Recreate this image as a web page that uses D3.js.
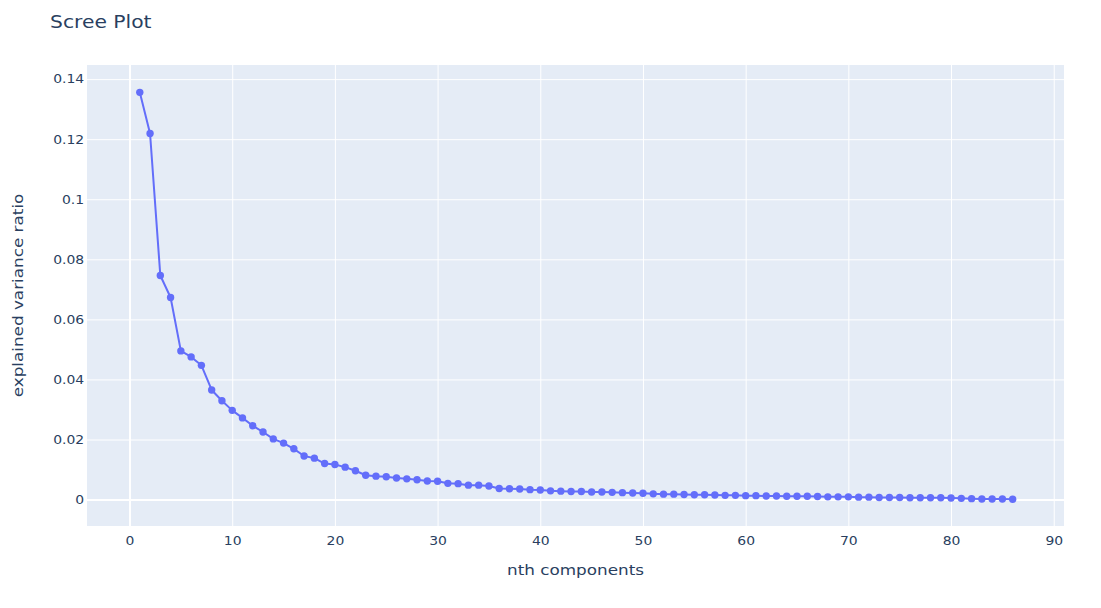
<!DOCTYPE html>
<html>
<head>
<meta charset="utf-8">
<script src="https://cdn.jsdelivr.net/npm/d3@7"></script>
<style>
  html, body { margin: 0; padding: 0; background: #fff; }
  svg { display: block; font-family: "DejaVu Sans", Verdana, sans-serif; }
</style>
</head>
<body>
<svg id="chart" width="1101" height="608"></svg>
<script>
const components = d3.range(1, 87);
const varianceRatio = [
  0.1356, 0.1219, 0.0746, 0.0673, 0.0495, 0.0475, 0.0447, 0.0365, 0.0329, 0.0297,
  0.0272, 0.0246, 0.0225, 0.0202, 0.0188, 0.0169, 0.0145, 0.0138, 0.0120, 0.0117,
  0.0108, 0.0096, 0.0081, 0.0078, 0.0076, 0.0072, 0.0069, 0.0066, 0.0062, 0.0061,
  0.0054, 0.0053, 0.0048, 0.0048, 0.0045, 0.0037, 0.0036, 0.0035, 0.0033, 0.0032,
  0.0029, 0.0028, 0.0027, 0.0027, 0.0025, 0.0025, 0.0024, 0.0023, 0.0022, 0.0021,
  0.0019, 0.0018, 0.0018, 0.0017, 0.0016, 0.0016, 0.0015, 0.0014, 0.0014, 0.0013,
  0.0013, 0.0012, 0.0012, 0.0011, 0.0011, 0.0011, 0.0010, 0.0009, 0.0009, 0.0009,
  0.0008, 0.0008, 0.0007, 0.0007, 0.0007, 0.0006, 0.0006, 0.0006, 0.0006, 0.0005,
  0.0004, 0.0003, 0.0002, 0.0002, 0.0002, 0.0001
];
const xTicks = [0, 10, 20, 30, 40, 50, 60, 70, 80, 90];
const yTicks = [0, 0.02, 0.04, 0.06, 0.08, 0.1, 0.12, 0.14];
const yTickLabels = ["0", "0.02", "0.04", "0.06", "0.08", "0.1", "0.12", "0.14"];

const titleText = "Scree Plot";
const xTitle = "nth components";
const yTitle = "explained variance ratio";

const svg = d3.select("#chart");
const W = 1101, H = 608;
const m = { left: 87, right: 37, top: 65, bottom: 82 };
const pw = W - m.left - m.right, ph = H - m.top - m.bottom;
const FONT = '"DejaVu Sans", Verdana, sans-serif';
const SX = 1.16; // horizontal text stretch seen in the reference

const x = d3.scaleLinear().domain([-4.14, 91.0]).range([m.left, m.left + pw]);
const y = d3.scaleLinear().domain([-0.0088, 0.1447]).range([m.top + ph, m.top]);

const textColor = "#2a3f5f";

svg.append("rect").attr("x", m.left).attr("y", m.top).attr("width", pw).attr("height", ph).attr("fill", "#e5ecf6");

// gridlines via axes
const gx = svg.append("g").attr("transform", `translate(0,${m.top + ph})`)
  .call(d3.axisBottom(x).tickValues(xTicks).tickSize(-ph).tickFormat(""));
gx.select(".domain").remove();
gx.selectAll(".tick line").attr("stroke", "#fff").attr("stroke-width", d => d === 0 ? 2 : 1);

const gy = svg.append("g").attr("transform", `translate(${m.left},0)`)
  .call(d3.axisLeft(y).tickValues(yTicks).tickSize(-pw).tickFormat(""));
gy.select(".domain").remove();
gy.selectAll(".tick line").attr("stroke", "#fff").attr("stroke-width", d => d === 0 ? 2 : 1);

// tick labels
const lx = svg.append("g").attr("transform", `translate(0,${m.top + ph})`)
  .call(d3.axisBottom(x).tickValues(xTicks).tickSize(0).tickPadding(10).tickFormat(d3.format("d")));
lx.select(".domain").remove();
lx.selectAll("text").attr("fill", textColor).attr("font-size", 12).attr("font-family", FONT)
  .attr("transform", `scale(${SX},1)`);

const ly = svg.append("g").attr("transform", `translate(${m.left},0)`)
  .call(d3.axisLeft(y).tickValues(yTicks).tickSize(0).tickPadding(2.5).tickFormat((d, i) => yTickLabels[i]));
ly.select(".domain").remove();
ly.selectAll("text").attr("fill", textColor).attr("font-size", 12).attr("font-family", FONT)
  .attr("transform", `scale(${SX},1)`);

// line + markers
const data = components.map((c, i) => ({ c, v: varianceRatio[i] }));
svg.append("clipPath").attr("id", "clip").append("rect")
  .attr("x", m.left).attr("y", m.top).attr("width", pw).attr("height", ph);

const plot = svg.append("g").attr("clip-path", "url(#clip)");
plot.append("path").datum(data)
  .attr("fill", "none").attr("stroke", "#636efa").attr("stroke-width", 2)
  .attr("stroke-linejoin", "round")
  .attr("d", d3.line().x(d => x(d.c)).y(d => y(d.v)));
plot.selectAll("circle").data(data).join("circle")
  .attr("cx", d => x(d.c)).attr("cy", d => y(d.v)).attr("r", 3.7)
  .attr("fill", "#636efa");

// titles
svg.append("text").attr("transform", `translate(50,28) scale(${SX},1)`).attr("fill", textColor)
  .attr("font-size", 17.5).attr("font-family", FONT).text(titleText);
svg.append("text").attr("transform", `translate(${m.left + pw / 2},575) scale(${SX},1)`)
  .attr("text-anchor", "middle")
  .attr("fill", textColor).attr("font-size", 14.5).attr("font-family", FONT).text(xTitle);
svg.append("text").attr("transform", `translate(23,${m.top + ph / 2}) rotate(-90) scale(${SX},1)`)
  .attr("text-anchor", "middle").attr("fill", textColor).attr("font-size", 14.5)
  .attr("font-family", FONT).text(yTitle);
</script>
</body>
</html>
